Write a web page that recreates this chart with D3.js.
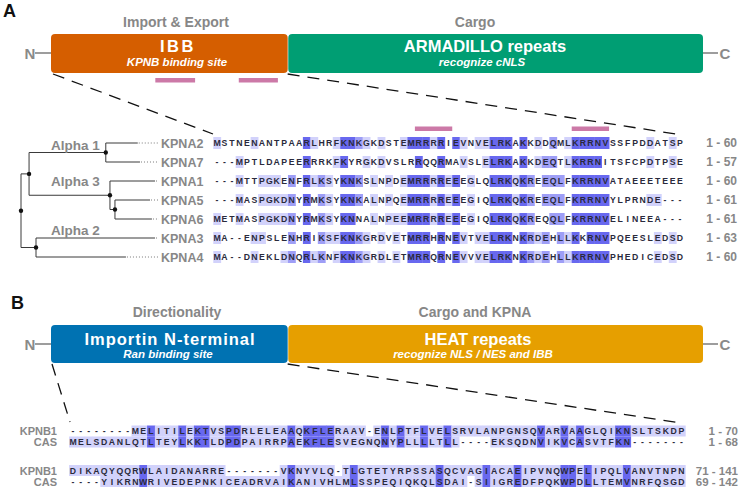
<!DOCTYPE html>
<html><head><meta charset="utf-8">
<script src="https://cdn.jsdelivr.net/npm/d3@7/dist/d3.min.js"></script>
<style>html,body{margin:0;padding:0;background:#fff}svg{display:block}</style>
</head><body>
<svg id="chart" width="740" height="498"></svg>
<script>
// ---------------- DATA ----------------
const domainNamesA = ["IBB", "ARMADILLO repeats"];
const domainSubsA = ["KPNB binding site", "recognize cNLS"];
const domainRolesA = ["Import & Export", "Cargo"];
const domainBoundsA = [[0, 36.3], [36.3, 100]];
const ibbMarks = [[16, 22.1], [28.8, 34.8]];

const domainNamesB = ["Importin N-terminal", "HEAT repeats"];
const domainSubsB = ["Ran binding site", "recognize NLS / NES and IBB"];
const domainRolesB = ["Directionality", "Cargo and KPNA"];
const domainBoundsB = [[0, 36.3], [36.3, 100]];

const kpnaNames = ["KPNA2", "KPNA7", "KPNA1", "KPNA5", "KPNA6", "KPNA3", "KPNA4"];
const kpnaSeqs = [
  "MSTNENANTPAARLHRFKNKGKDSTEMRRRRIEVNVELRKAKKDDQMLKRRNVSSFPDDATSP",
  "---MPTLDAPEERRRKFKYRGKDVSLRRQQRMAVSLELRKAKKDEQTLKRRNITSFCPDTPSE",
  "---MTTPGKENFRLKSYKNKSLNPDEMRRRREEEGLQLRKQKREEQLFKRRNVATAEEETEEE",
  "---MASPGKDNYRMKSYKNKALNPQEMRRRREEEGIQLRKQKREEQLFKRRNVYLPRNDE---",
  "METMASPGKDNYRMKSYKNNALNPEEMRRRREEEGIQLRKQKREQQLFKRRNVELINEEA---",
  "MA--ENPSLENHRIKSFKNKGRDVETMRRHRNEVTVELRKNKRDEHLLKKRNVPQEESLEDSD",
  "MA--DNEKLDNQRLKNFKNKGRDLETMRRQRNEVVVELRKNKRDEHLLKRRNVPHEDICEDSD"
];
const kpnaRanges = ["1 - 60", "1 - 57", "1 - 60", "1 - 61", "1 - 61", "1 - 63", "1 - 60"];
const nlsMarks = [[28, 32], [49, 53]];

// tree: d = cumulative branch distance
const kpnaTree = {id: "root", d: 0, children: [
  {id: "a13", d: 0.058, children: [
    {id: "alpha1", d: 0.61, children: [{id: "KPNA2", d: 0.84}, {id: "KPNA7", d: 0.856}]},
    {id: "alpha3", d: 0.64, children: [
      {id: "KPNA1", d: 0.964},
      {id: "a56", d: 0.676, children: [{id: "KPNA5", d: 0.928}, {id: "KPNA6", d: 0.942}]}
    ]}
  ]},
  {id: "alpha2", d: 0.108, children: [{id: "KPNA3", d: 0.964}, {id: "KPNA4", d: 0.755}]}
]};
const cladeNames = ["Alpha 1", "Alpha 3", "Alpha 2"];
const cladeNodes = ["alpha1", "alpha3", "alpha2"];

const kpnbNames = ["KPNB1", "CAS"];
const kpnbBlock1 = [
  "--------MELITILEKTVSPDRLELEAAQKFLERAAV-ENLPTFLVELSRVLANPGNSQVARVAAGLQIKNSLTSKDP",
  "MELSDANLQTLTEYLKKTLDPDPAIRRPAEKFLESVEGNQNYPLLLLTLL----EKSQDNVIKVCASVTFKN-------"
];
const kpnbBlock2 = [
  "DIKAQYQQRWLAIDANARRE-------VKNYVLQ-TLGTETYRPSSASQCVAGIACAEIPVNQWPELIPQLVANVTNPN",
  "----YIKRNWRIVEDEPNKICEADRVAIKANIVHLMLSSPEQIQKQLSDAI-SIIGREDFPQKWPDLLTEMVNRFQSGD"
];
const kpnbRanges1 = ["1 - 70", "1 - 68"];
const kpnbRanges2 = ["71 - 141", "69 - 142"];

// ---------------- DRAWING ----------------
const svg = d3.select("#chart");
const FONT = "Arial, 'Liberation Sans', Helvetica, sans-serif";
svg.style("font-family", FONT);
const GRAY = "#878787";
const SHADES = ["none", "#d2d2fb", "#9e9ef6", "#6868ef"];
const PINK = "#cc79a7";
const xDom = d3.scaleLinear().domain([0, 100]).range([51, 703]);

// panel letters
svg.append("text").attr("x", 3).attr("y", 17).attr("font-size", 18).attr("font-weight", "bold").attr("fill", "#111").text("A");
svg.append("text").attr("x", 11).attr("y", 309).attr("font-size", 18).attr("font-weight", "bold").attr("fill", "#111").text("B");

function domainPanel(names, subs, roles, bounds, colors, lay) {
  const g = svg.append("g");
  g.append("line").attr("x1", 35).attr("x2", xDom(0)).attr("y1", lay.mid).attr("y2", lay.mid)
    .attr("stroke", "#9d9d9d").attr("stroke-width", 2);
  g.append("line").attr("x1", xDom(100)).attr("x2", 718).attr("y1", lay.mid).attr("y2", lay.mid)
    .attr("stroke", "#9d9d9d").attr("stroke-width", 2);
  g.append("text").attr("x", 30).attr("y", lay.mid + 5.5).attr("text-anchor", "middle")
    .attr("font-size", 15).attr("font-weight", "bold").attr("fill", "#8a8a8a").text("N");
  g.append("text").attr("x", 725).attr("y", lay.mid + 5.5).attr("text-anchor", "middle")
    .attr("font-size", 15).attr("font-weight", "bold").attr("fill", "#8a8a8a").text("C");
  bounds.forEach((b, i) => {
    g.append("rect").attr("x", xDom(b[0]) + (i ? 0.6 : 0)).attr("y", lay.top)
      .attr("width", xDom(b[1]) - xDom(b[0]) - (i ? 0.6 : 0)).attr("height", lay.bot - lay.top)
      .attr("rx", 4).attr("fill", colors[i]);
    g.append("text").attr("x", lay.roleX[i]).attr("y", lay.roleY).attr("text-anchor", "middle")
      .attr("font-size", 14).attr("font-weight", "bold").attr("fill", GRAY).text(roles[i]);
    g.append("text").attr("x", lay.nameX[i]).attr("y", lay.nameY).attr("text-anchor", "middle")
      .attr("font-size", 16.5).attr("font-weight", "bold").attr("fill", "#fff")
      .attr("letter-spacing", lay.spacing[i]).text(names[i]);
    g.append("text").attr("x", lay.subX[i]).attr("y", lay.subY).attr("text-anchor", "middle")
      .attr("font-size", 11.5).attr("font-weight", "bold").attr("font-style", "italic").attr("fill", "#fff")
      .text(subs[i]);
  });
  return g;
}

domainPanel(domainNamesA, domainSubsA, domainRolesA, domainBoundsA, ["#d55e00", "#009e73"],
  {top: 34, bot: 73, mid: 53, roleY: 27, nameY: 52, subY: 66,
   roleX: [176, 475], nameX: [178, 485], subX: [177, 482], spacing: [2.5, 0]});
domainPanel(domainNamesB, domainSubsB, domainRolesB, domainBoundsB, ["#0072b2", "#e69f00"],
  {top: 325, bot: 363, mid: 344, roleY: 317, nameY: 345, subY: 358,
   roleX: [177, 475], nameX: [170, 478], subX: [168, 473], spacing: [1, 0]});

// IBB marks
svg.append("g").selectAll("rect").data(ibbMarks).join("rect")
  .attr("x", d => xDom(d[0])).attr("width", d => xDom(d[1]) - xDom(d[0]))
  .attr("y", 78).attr("height", 4.5).attr("fill", PINK);

// percentage-identity shading (Jalview style)
function pid(seqs) {
  const n = seqs.length, L = seqs[0].length;
  const out = seqs.map(() => new Array(L).fill(0));
  for (let c = 0; c < L; c++) {
    const cnt = d3.rollup(seqs.map(s => s[c]).filter(ch => ch !== "-"), v => v.length, d => d);
    const mx = d3.max(Array.from(cnt.values())) || 0;
    const pct = mx / n * 100;
    const lvl = pct > 80 ? 3 : pct > 60 ? 2 : pct > 40 ? 1 : 0;
    seqs.forEach((s, i) => { if (s[c] !== "-" && cnt.get(s[c]) === mx) out[i][c] = lvl; });
  }
  return out;
}

function alignment(seqs, x, ys, cellH, fontSize) {
  const sh = pid(seqs);
  const w = x(1) - x(0);
  const g = svg.append("g");
  seqs.forEach((s, i) => {
    const cells = s.split("").map((ch, c) => ({ch, c, l: sh[i][c]}));
    g.append("g").selectAll("rect").data(cells.filter(d => d.l > 0)).join("rect")
      .attr("x", d => x(d.c) - w / 2).attr("y", ys[i] - cellH / 2)
      .attr("width", w + 0.4).attr("height", cellH).attr("fill", d => SHADES[d.l]);
    g.append("g").selectAll("text").data(cells).join("text")
      .attr("x", d => x(d.c)).attr("y", ys[i]).attr("dy", "0.36em").attr("text-anchor", "middle")
      .attr("font-size", fontSize).attr("font-weight", "bold").attr("fill", "#2a2a3c")
      .text(d => d.ch);
  });
}

// ----- Panel A alignment -----
const colA = d3.scaleLinear().domain([0, kpnaSeqs[0].length - 1]).range([217, 680]);
const rowA = d3.scaleLinear().domain([0, kpnaNames.length - 1]).range([143, 257]);
const wA = colA(1) - colA(0);
alignment(kpnaSeqs, colA, kpnaNames.map((d, i) => rowA(i)), 12, 8.7);

svg.append("g").selectAll("rect").data(nlsMarks).join("rect")
  .attr("x", d => colA(d[0] - 1) - wA / 2).attr("width", d => colA(d[1] - 1) - colA(d[0] - 1) + wA)
  .attr("y", 126.5).attr("height", 4.5).attr("fill", PINK);

svg.append("g").selectAll("text").data(kpnaRanges).join("text")
  .attr("x", 737).attr("y", (d, i) => rowA(i) + 4).attr("text-anchor", "end")
  .attr("font-size", 12).attr("font-weight", "bold").attr("fill", GRAY).text(d => d);

// dashed zoom lines A
const dash = svg.append("g").attr("stroke", "#111").attr("stroke-width", 1.3).attr("stroke-dasharray", "12,8").attr("fill", "none");
dash.append("line").attr("x1", xDom(0) + 2).attr("y1", 74).attr("x2", colA(0) - 4).attr("y2", 134);
dash.append("line").attr("x1", xDom(domainBoundsA[0][1])).attr("y1", 74).attr("x2", colA(kpnaSeqs[0].length - 1) - 4).attr("y2", 134);

// ----- Tree -----
const xTree = d3.scaleLinear().domain([0, 1]).range([21, 160]);
const root = d3.hierarchy(kpnaTree);
root.eachAfter(n => {
  n.px = xTree(n.data.d);
  if (n.children) n.py = d3.mean(n.children, c => c.py);
  else n.py = rowA(kpnaNames.indexOf(n.data.id));
});
const tg = svg.append("g");
root.descendants().forEach(n => {
  if (n.children) {
    tg.append("line").attr("x1", n.px).attr("x2", n.px)
      .attr("y1", d3.min(n.children, c => c.py)).attr("y2", d3.max(n.children, c => c.py))
      .attr("stroke", "#3a3a3a").attr("stroke-width", 1);
  }
  if (n.parent) {
    tg.append("line").attr("x1", n.parent.px).attr("x2", n.px).attr("y1", n.py).attr("y2", n.py)
      .attr("stroke", "#3a3a3a").attr("stroke-width", 1);
  }
  if (!n.children) {
    tg.append("line").attr("x1", n.px + 1).attr("x2", 159).attr("y1", n.py).attr("y2", n.py)
      .attr("stroke", "#7a7a7a").attr("stroke-width", 1).attr("stroke-dasharray", "1,2");
    tg.append("text").attr("x", 161).attr("y", n.py + 4.5).attr("font-size", 12.5)
      .attr("font-weight", "bold").attr("fill", GRAY).text(n.data.id);
  }
});
root.descendants().filter(n => n.children).forEach(n => {
  tg.append("circle").attr("cx", n.px).attr("cy", n.py).attr("r", 2.2).attr("fill", "#111");
});
const cladeOffsets = [-3, -9, -13];
cladeNames.forEach((name, i) => {
  const node = root.descendants().find(n => n.data.id === cladeNodes[i]);
  tg.append("text").attr("x", 51).attr("y", node.py + cladeOffsets[i]).attr("font-size", 13.5)
    .attr("font-weight", "bold").attr("fill", GRAY).text(name);
});

// ----- Panel B alignment -----
const colB = d3.scaleLinear().domain([0, kpnbBlock1[0].length - 1]).range([73, 681.4]);
const rowsB1 = [431, 442], rowsB2 = [470.5, 481.5];
alignment(kpnbBlock1, colB, rowsB1, 11, 8.7);
alignment(kpnbBlock2, colB, rowsB2, 11, 8.7);
[[rowsB1, kpnbRanges1], [rowsB2, kpnbRanges2]].forEach(([ys, rngs]) => {
  svg.append("g").selectAll("text").data(kpnbNames).join("text")
    .attr("x", 57).attr("y", (d, i) => ys[i] + 4).attr("text-anchor", "end")
    .attr("font-size", 11).attr("font-weight", "bold").attr("fill", GRAY).text(d => d);
  svg.append("g").selectAll("text").data(rngs).join("text")
    .attr("x", 738).attr("y", (d, i) => ys[i] + 4).attr("text-anchor", "end")
    .attr("font-size", 11.5).attr("font-weight", "bold").attr("fill", GRAY).text(d => d);
});

const dashB = svg.append("g").attr("stroke", "#111").attr("stroke-width", 1.3).attr("stroke-dasharray", "12,8").attr("fill", "none");
dashB.append("line").attr("x1", xDom(0) + 1).attr("y1", 364).attr("x2", colB(0) - 3).attr("y2", 422);
dashB.append("line").attr("x1", xDom(domainBoundsB[0][1])).attr("y1", 364).attr("x2", colB(kpnbBlock1[0].length - 1)).attr("y2", 423);
</script>
</body></html>
